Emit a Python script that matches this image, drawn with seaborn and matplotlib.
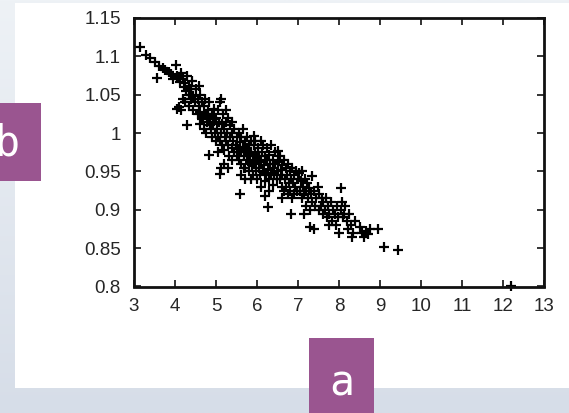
import numpy as np
import pandas as pd
import matplotlib
matplotlib.use("Agg")
import matplotlib.pyplot as plt
import seaborn as sns
from matplotlib.patches import Rectangle

# ---- data ----
x_vals = [
    3.15, 3.3, 3.4, 3.5, 3.6, 3.55, 3.75, 3.85, 3.9, 4.03, 3.95, 3.7,
    4.05, 4.1, 4.12, 4.15, 4.2, 4.22, 4.25, 4.28, 4.3, 4.33, 4.35, 4.38, 4.4, 4.42, 4.45, 4.48,
    4.05, 4.1, 4.15, 4.3, 4.2, 4.35, 4.45, 4.25, 4.4,
    4.52, 4.55, 4.58, 4.6, 4.62, 4.65, 4.68, 4.7, 4.72, 4.75, 4.78, 4.8, 4.82, 4.85, 4.88, 4.9,
    4.92, 4.95, 4.98, 4.83, 4.6, 4.7, 4.55, 4.9, 4.75, 4.65, 4.85, 4.95, 4.58, 4.8,
    5.0, 5.02, 5.05, 5.05, 5.08, 5.1, 5.1, 5.12, 5.15, 5.15, 5.18, 5.2, 5.2, 5.22, 5.25, 5.25,
    5.28, 5.3, 5.3, 5.32, 5.35, 5.35, 5.38, 5.4, 5.4, 5.42, 5.45, 5.45, 5.48, 5.5, 5.09, 5.12,
    5.0, 5.05, 5.2, 5.3, 5.13, 5.25, 5.4, 5.5,
    5.52, 5.55, 5.55, 5.58, 5.58, 5.6, 5.62, 5.62, 5.65, 5.68, 5.7, 5.7, 5.72, 5.75, 5.75, 5.78,
    5.8, 5.8, 5.82, 5.85, 5.85, 5.88, 5.9, 5.9, 5.92, 5.93, 5.95, 5.95, 5.98, 6.0, 5.6, 5.7,
    5.85, 5.65, 5.75, 5.9, 5.55, 5.8, 5.95, 5.68,
    6.02, 6.05, 6.05, 6.08, 6.1, 6.1, 6.12, 6.15, 6.15, 6.18, 6.2, 6.2, 6.22, 6.25, 6.25, 6.27,
    6.28, 6.3, 6.3, 6.32, 6.35, 6.35, 6.38, 6.4, 6.4, 6.42, 6.45, 6.45, 6.48, 6.5, 6.1, 6.2,
    6.3, 6.0, 6.5,
    6.52, 6.55, 6.55, 6.58, 6.6, 6.6, 6.62, 6.65, 6.65, 6.68, 6.7, 6.7, 6.72, 6.75, 6.75, 6.78,
    6.8, 6.8, 6.82, 6.85, 6.85, 6.88, 6.9, 6.9, 6.92, 6.95, 6.98, 7.0, 6.82, 6.6,
    7.02, 7.05, 7.08, 7.1, 7.1, 7.12, 7.15, 7.18, 7.2, 7.2, 7.22, 7.25, 7.28, 7.3, 7.3, 7.32,
    7.35, 7.35, 7.38, 7.4, 7.42, 7.45, 7.48, 7.5, 7.15,
    7.52, 7.55, 7.58, 7.6, 7.62, 7.65, 7.68, 7.7, 7.72, 7.75, 7.8, 7.82, 7.85, 7.9, 7.92, 7.95,
    7.98, 7.75,
    8.05, 8.05, 8.08, 8.1, 8.12, 8.15, 8.2, 8.22, 8.25, 8.3, 8.32, 8.35, 8.4, 8.5, 8.55, 8.6,
    8.65, 8.7, 8.75, 8.94, 9.09, 9.44, 8.0,
    12.2,
]
y_vals = [
    1.112, 1.102, 1.098, 1.093, 1.088, 1.072, 1.082, 1.080, 1.077, 1.089, 1.070, 1.085,
    1.075, 1.072, 1.066, 1.078, 1.070, 1.060, 1.065, 1.055, 1.074, 1.050, 1.062, 1.045, 1.058, 1.068, 1.048, 1.040,
    1.032, 1.034, 1.030, 1.010, 1.045, 1.035, 1.030, 1.040, 1.050,
    1.058, 1.045, 1.035, 1.050, 1.028, 1.040, 1.020, 1.035, 1.045, 1.025, 1.015, 1.030, 1.040, 1.020, 1.005, 1.025,
    1.012, 1.032, 1.000, 0.971, 1.012, 1.005, 1.025, 0.995, 1.000, 1.018, 1.010, 1.018, 1.062, 1.022,
    1.020, 1.005, 0.995, 1.030, 1.015, 0.990, 1.040, 1.000, 1.012, 0.985, 1.025, 1.005, 0.978, 0.995, 1.015, 0.990,
    1.000, 0.985, 1.020, 0.970, 0.995, 1.010, 0.980, 1.000, 0.965, 0.990, 1.005, 0.975, 0.985, 0.995, 0.947, 0.955,
    0.990, 0.975, 0.960, 0.955, 1.044, 1.030, 1.015, 0.970,
    0.980, 1.000, 0.965, 0.988, 0.921, 0.975, 0.995, 0.960, 0.982, 0.970, 0.990, 0.955, 0.978, 0.965, 0.995, 0.972,
    0.985, 0.950, 0.962, 0.975, 0.990, 0.958, 0.970, 0.945, 0.985, 0.996, 0.962, 0.975, 0.950, 0.968, 0.945, 0.940,
    0.940, 1.005, 0.980, 0.960, 0.975, 0.970, 0.990, 0.955,
    0.980, 0.955, 0.970, 0.945, 0.990, 0.962, 0.975, 0.950, 0.985, 0.958, 0.970, 0.938, 0.948, 0.965, 0.980, 0.903,
    0.952, 0.940, 0.972, 0.960, 0.945, 0.985, 0.955, 0.965, 0.932, 0.948, 0.960, 0.975, 0.940, 0.950, 0.930, 0.918,
    0.925, 0.940, 0.977,
    0.962, 0.940, 0.970, 0.952, 0.930, 0.958, 0.945, 0.965, 0.925, 0.940, 0.955, 0.930, 0.945, 0.960, 0.920, 0.935,
    0.950, 0.925, 0.940, 0.955, 0.915, 0.935, 0.945, 0.920, 0.930, 0.950, 0.925, 0.940, 0.894, 0.915,
    0.948, 0.925, 0.938, 0.915, 0.950, 0.930, 0.920, 0.940, 0.905, 0.925, 0.935, 0.915, 0.928, 0.900, 0.878, 0.920,
    0.944, 0.910, 0.875, 0.925, 0.905, 0.915, 0.930, 0.900, 0.895,
    0.920, 0.905, 0.915, 0.895, 0.910, 0.900, 0.915, 0.890, 0.905, 0.895, 0.910, 0.885, 0.900, 0.895, 0.880, 0.905,
    0.890, 0.880,
    0.928, 0.900, 0.910, 0.890, 0.895, 0.905, 0.885, 0.875, 0.895, 0.880, 0.864, 0.870, 0.885, 0.878, 0.870, 0.865,
    0.872, 0.868, 0.875, 0.875, 0.851, 0.847, 0.870,
    0.801,
]
x_ticks = [3, 4, 5, 6, 7, 8, 9, 10, 11, 12, 13]
y_ticks = [0.8, 0.85, 0.9, 0.95, 1.0, 1.05, 1.1, 1.15]
y_tick_labels = ["0.8", "0.85", "0.9", "0.95", "1", "1.05", "1.1", "1.15"]

df = pd.DataFrame({"a": x_vals, "b": y_vals})

sns.set_theme(style="white")
plt.rcParams["font.family"] = ["Liberation Sans", "DejaVu Sans"]

W, H = 569, 413
fig = plt.figure(figsize=(W / 100, H / 100), dpi=100)

# background gradient
bg = fig.add_axes([0, 0, 1, 1], zorder=-10)
grad = np.linspace(0, 1, 256).reshape(-1, 1)
cmap = matplotlib.colors.LinearSegmentedColormap.from_list("bg", ["#eef2f6", "#d6dde8"])
bg.imshow(grad, aspect="auto", cmap=cmap, extent=[0, 1, 0, 1], origin="upper")
bg.set_axis_off()
# white panel
bg.add_patch(Rectangle((15 / W, (H - 388) / H), 1 - 15 / W, 385 / H,
                       transform=bg.transAxes, facecolor="white", edgecolor="none"))

ax = fig.add_axes([134 / W, (H - 286.5) / H, (544 - 134) / W, (286.5 - 18) / H])
sns.scatterplot(data=df, x="a", y="b", marker="+", color="black", s=58,
                linewidth=1.6, ax=ax, legend=False, clip_on=False)
ax.set_xlim(3, 13)
ax.set_ylim(0.8, 1.15)
ax.set_xticks(x_ticks)
ax.set_yticks(y_ticks)
ax.set_yticklabels(y_tick_labels)
ax.set_xlabel("")
ax.set_ylabel("")
ax.set_facecolor("white")
for s in ax.spines.values():
    s.set_visible(True)
    s.set_color("#111111")
    s.set_linewidth(2.0)
ax.tick_params(direction="in", length=5, width=1.4, color="#333333",
               top=True, right=True, bottom=True, left=True,
               labelsize=13.5, labelcolor="#262626")
ax.tick_params(axis="x", pad=8.5)
ax.tick_params(axis="y", pad=9.5)

# purple label boxes
purple = "#9a5590"
bg.add_patch(Rectangle((0, (H - 181) / H), 41 / W, 78 / H, transform=bg.transAxes,
                       facecolor=purple, edgecolor="none", zorder=5))
bg.add_patch(Rectangle((309 / W, 0), 65 / W, (H - 338) / H, transform=bg.transAxes,
                       facecolor=purple, edgecolor="none", zorder=5))
fig.text(-6 / W, (H - 156) / H, "b", color="white", fontsize=30,
         family="DejaVu Sans Mono", ha="left", va="baseline", zorder=6)
fig.text(342 / W, (H - 395) / H, "a", color="white", fontsize=30,
         family="DejaVu Sans Mono", ha="center", va="baseline", zorder=6)

fig.savefig("out.png", dpi=100)
